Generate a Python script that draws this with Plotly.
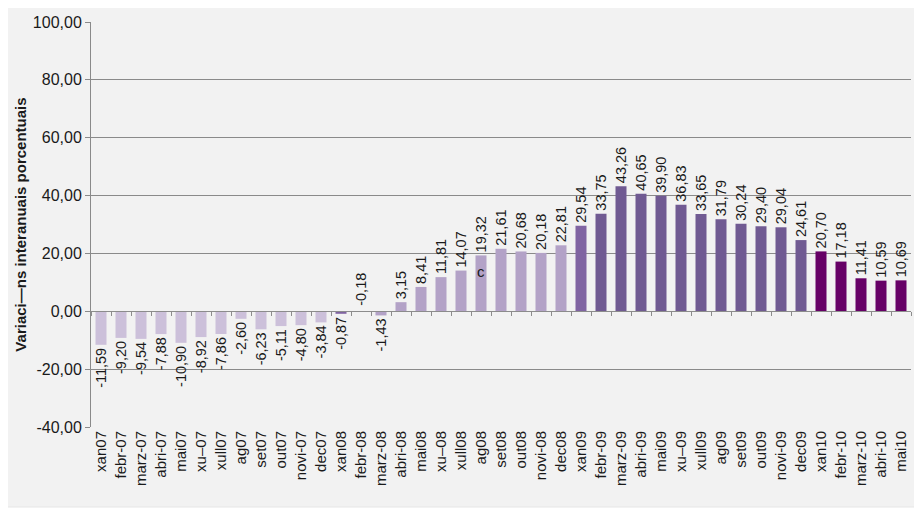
import plotly.graph_objects as go

months = ["xan07", "febr-07", "marz-07", "abri-07", "mai07", "xu\u201307", "xull07", "ag07", "set07", "out07",
          "novi-07", "dec07", "xan08", "febr-08", "marz-08", "abri-08", "mai08", "xu\u201308", "xull08", "ag08",
          "set08", "out08", "novi-08", "dec08", "xan09", "febr-09", "marz-09", "abri-09", "mai09", "xu\u201309",
          "xull09", "ag09", "set09", "out09", "novi-09", "dec09", "xan10", "febr-10", "marz-10", "abri-10", "mai10"]

values = [-11.59, -9.20, -9.54, -7.88, -10.90, -8.92, -7.86, -2.60, -6.23, -5.11,
          -4.80, -3.84, -0.87, -0.18, -1.43, 3.15, 8.41, 11.81, 14.07, 19.32,
          21.61, 20.68, 20.18, 22.81, 29.54, 33.75, 43.26, 40.65, 39.90, 36.83,
          33.65, 31.79, 30.24, 29.40, 29.04, 24.61, 20.70, 17.18, 11.41, 10.59, 10.69]

y_ticks = [-40, -20, 0, 20, 40, 60, 80, 100]

bar_colors = (["#ccc0da"] * 12 + ["#8064a2"] + ["#b3a2c7"] * 11 + ["#8064a2"]
              + ["#705a92"] * 11 + ["#660066"] * 5)

labels = [f"{v:.2f}".replace(".", ",") for v in values]
bar_text = [("" if m == "febr-08" else t) for m, t in zip(months, labels)]
y_tick_text = [f"{v:.2f}".replace(".", ",") for v in y_ticks]

y_title = "Variaci\u2014ns interanuais porcentuais"
stray_mark = ("ag08", 13.8, "c")

FONT = "Liberation Sans, Arial"
lab_font = dict(family=FONT, size=14.5, color="#1a1a1a")

fig = go.Figure()
fig.add_trace(go.Bar(
    x=months, y=values, marker_color=bar_colors, marker_line_width=0,
    text=bar_text, textposition="outside", textangle=-90, constraintext="none",
    textfont=lab_font, outsidetextfont=lab_font,
    cliponaxis=False, showlegend=False, hoverinfo="x+y",
))

fig.add_annotation(x="febr-08", y=0, text=labels[months.index("febr-08")], textangle=-90,
                   showarrow=False, yanchor="bottom", yshift=3, font=lab_font)
fig.add_annotation(x=stray_mark[0], y=stray_mark[1], text=stray_mark[2], showarrow=False,
                   font=dict(family=FONT, size=15, color="#1a1a1a"))

# page has an 8px body margin, so the figure starts at (8, 8) in the window
OFF = 8
W, H = 922 - OFF, 513 - OFF
ml, mr, mt, mb = 91 - OFF, 11, 22 - OFF, 86
pw, ph = W - ml - mr, H - mt - mb
fig.add_shape(type="rect", xref="paper", yref="paper", layer="below",
              x0=(5 - 91) / pw, x1=(917 - 91) / pw,
              y0=(427 - 507) / ph, y1=(427 - 4) / ph,
              fillcolor="#f2f2f2", line=dict(color="#e6e6e6", width=1))

zero_pos = 40 / 140

fig.update_layout(
    width=W, height=H,
    margin=dict(l=ml, r=mr, t=mt, b=mb, autoexpand=False),
    paper_bgcolor="white", plot_bgcolor="#f2f2f2",
    bargap=0.45,
    font=dict(family=FONT, color="#1a1a1a"),
    xaxis=dict(type="category", categoryarray=months, range=[-0.5, 40.5], automargin=False,
               showgrid=False, showline=False, ticks="", tickangle=-90,
               tickfont=dict(size=15), zeroline=False),
    xaxis2=dict(type="category", categoryarray=months, range=[-0.5, 40.5],
                overlaying="x", anchor="free", position=zero_pos, side="bottom",
                showticklabels=False, showline=True, linecolor="#8c8c8c", linewidth=1,
                ticks="outside", tickson="boundaries", ticklen=4, tickcolor="#8c8c8c",
                showgrid=False, zeroline=False),
    yaxis=dict(range=[-40, 100], tickvals=y_ticks, ticktext=y_tick_text, automargin=False,
               showgrid=True, gridcolor="#8a8a8a", gridwidth=1,
               zeroline=False, showline=True, linecolor="#8a8a8a",
               ticks="outside", ticklen=5, tickcolor="#8a8a8a",
               tickfont=dict(size=16),
               title=dict(text="<b>" + y_title + "</b>", font=dict(size=15), standoff=2)),
)
fig.add_trace(go.Scatter(x=months, y=[None] * len(months), xaxis="x2", showlegend=False,
                         hoverinfo="skip"))

fig.write_html("out.html")
